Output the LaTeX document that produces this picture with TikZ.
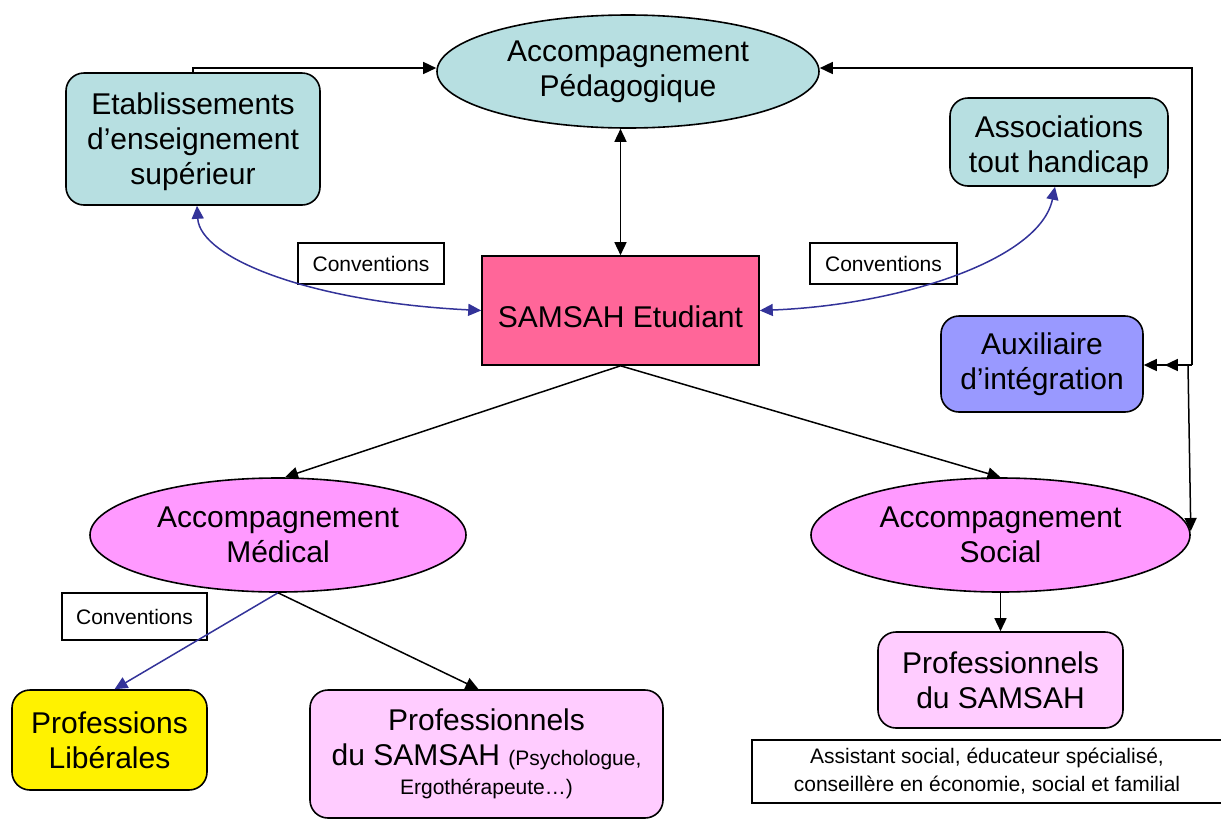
\documentclass[tikz,border=0pt]{standalone}
\usepackage{fontspec}
\setmainfont{Liberation Sans}
\usetikzlibrary{shapes.geometric,arrows.meta}
\definecolor{cyanf}{RGB}{183,223,225}
\definecolor{samsahf}{RGB}{255,102,153}
\definecolor{auxf}{RGB}{153,153,255}
\definecolor{medf}{RGB}{255,153,255}
\definecolor{prof}{RGB}{255,204,255}
\definecolor{convblue}{RGB}{51,51,153}
\begin{document}
\begin{tikzpicture}[x=1pt,y=-1pt,
  big/.style={font=\fontsize{30}{35}\selectfont, align=center, text=black},
  ell/.style={ellipse, draw, line width=1.6pt, inner sep=0pt, big},
  rbox/.style={rectangle, rounded corners=18pt, draw, line width=1.6pt, inner sep=0pt, big},
  pbox/.style={rectangle, draw, line width=1.6pt, inner sep=0pt, big},
  sbox/.style={rectangle, draw, line width=1.3pt, inner sep=0pt, font=\fontsize{21}{28}\selectfont, align=center},
  arr/.style={line width=1.5pt, -{Triangle[length=13pt,width=12pt]}},
  biarr/.style={line width=1.5pt, {Triangle[length=13pt,width=12pt]}-{Triangle[length=13pt,width=12pt]}},
  dblarr/.style={line width=1.5pt, -{Triangle[length=13pt,width=12pt,sep=8pt]Triangle[length=13pt,width=12pt]}},
  bluearr/.style={line width=1.5pt, draw=convblue, -{Triangle[length=13pt,width=12pt]}, fill=convblue},
  bluebi/.style={line width=1.5pt, draw=convblue, {Triangle[length=13pt,width=12pt]}-{Triangle[length=13pt,width=12pt]}},
]
\useasboundingbox (0,0) rectangle (1221,820);

% nodes
\node[ell, fill=cyanf, minimum width=382pt, minimum height=113pt] (ped) at (628,71.5) {Accompagnement\\Pédagogique};
\node[rbox, fill=cyanf, minimum width=254pt, minimum height=132pt] (etab) at (193,139) {\rule{0pt}{28pt}Etablissements\\d’enseignement\\supérieur};
\node[rbox, fill=cyanf, minimum width=218pt, minimum height=88pt] (assoc) at (1059,142) {\rule{0pt}{32pt}Associations\\tout handicap};
\node[pbox, fill=samsahf, minimum width=277pt, minimum height=109pt] (samsah) at (620.5,310.5) {\rule{0pt}{34pt}SAMSAH Etudiant};
\node[rbox, fill=auxf, minimum width=202pt, minimum height=96pt] (aux) at (1042,364) {Auxiliaire\\d’intégration};
\node[ell, fill=medf, minimum width=376pt, minimum height=114pt] (med) at (278,535) {Accompagnement\\Médical};
\node[ell, fill=medf, minimum width=379pt, minimum height=114pt] (soc) at (1000.5,535) {Accompagnement\\Social};
\node[rbox, fill=yellow, minimum width=195pt, minimum height=100pt] (lib) at (109.5,740) {Professions\\Libérales};
\node[rbox, fill=prof, minimum width=353pt, minimum height=128pt] (pro1) at (486.5,754) {Professionnels\\du SAMSAH {\fontsize{21}{28}\selectfont (Psychologue,}\\[-6pt]{\fontsize{21}{28}\selectfont Ergothérapeute…)}};
\node[rbox, fill=prof, minimum width=245pt, minimum height=96pt] (pro2) at (1000.5,680) {Professionnels\\du SAMSAH};
\node[sbox, minimum width=470pt, minimum height=63pt] (assist) at (987,771.5) {Assistant social, éducateur spécialisé,\\conseillère en économie, social et familial};

\node[sbox, minimum width=146pt, minimum height=41pt] (c1) at (371,263.5) {Conventions};
\node[sbox, minimum width=147pt, minimum height=41pt] (c2) at (883.5,263.5) {Conventions};
\node[sbox, minimum width=145pt, minimum height=47pt] (c3) at (134.5,616.5) {Conventions};

% connectors
\draw[arr] (etab.north) |- ([yshift=3.5pt]ped.west);
\draw[biarr] (samsah.north) -- (samsah.north |- ped.south);
\draw[bluebi] ([xshift=4pt]etab.south) .. controls (200,258) and (310,302) .. (samsah.west);
\draw[bluebi] (samsah.east) .. controls (900,305) and (1040,260) .. ([xshift=-4pt]assoc.south);
\draw[arr] (samsah.south) -- ([xshift=7pt]med.north);
\draw[arr] (samsah.south) -- (soc.north);
\draw[bluearr] (med.south) -- ([xshift=5pt]lib.north);
\draw[arr] (med.south) -- ([xshift=-8pt]pro1.north);
\draw[arr] (soc.south) -- (pro2.north);

\coordinate (j1) at (1192,365);
\coordinate (j2) at (1188,365);
\draw[arr] (j1) |- ([yshift=3.5pt]ped.east);
\draw[dblarr] (j1) -- (aux.east |- j1);
\draw[arr] (j2) -- ([yshift=4pt]soc.east);
\end{tikzpicture}
\end{document}
